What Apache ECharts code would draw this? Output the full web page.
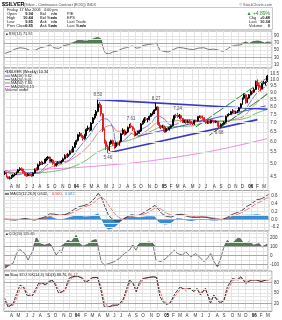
<!DOCTYPE html>
<html><head><meta charset="utf-8">
<script src="https://cdn.jsdelivr.net/npm/echarts@6/dist/echarts.min.js"></script>
<style>html,body{margin:0;padding:0;background:#fff}#c{width:282px;height:320px}</style>
</head><body><div id="c"></div>
<script>
// ---------- DATA ----------
const firstWeek = '2003-03-07';
const opens = [4.60,4.63,4.48,4.42,4.45,4.48,4.55,4.58,4.65,4.75,
4.80,4.78,4.65,4.55,4.52,4.58,4.55,4.52,4.62,4.78,
4.75,4.95,5.05,5.00,5.02,5.15,5.22,5.28,5.10,5.15,
5.00,4.92,5.00,5.05,5.02,5.10,5.20,5.35,5.30,5.40,
5.55,5.50,5.72,5.95,6.05,6.35,6.40,6.28,6.15,6.35,
6.65,6.72,6.60,7.00,7.30,7.45,7.70,8.20,8.10,7.55,
6.60,6.00,5.75,5.60,5.90,6.05,5.88,5.75,5.95,5.85,
6.00,6.40,6.60,6.40,6.50,6.75,6.85,6.78,6.65,6.35,
6.42,6.48,6.55,6.95,7.05,7.25,7.20,7.22,7.40,7.55,
7.62,7.80,8.00,7.00,6.85,6.75,6.82,6.52,6.70,6.62,
6.75,6.85,7.20,7.45,7.42,7.40,7.45,7.28,7.05,7.15,
7.02,7.12,7.10,6.98,6.95,7.15,7.12,7.35,7.40,7.32,
7.28,7.10,7.00,7.10,7.00,7.15,7.12,7.05,7.10,6.85,
6.80,6.92,6.95,7.05,7.40,7.50,7.52,7.70,7.75,7.65,
7.68,7.72,7.95,8.20,8.60,8.85,8.30,8.60,8.85,9.10,
9.05,9.25,9.90,9.62,9.40,9.30,9.72,9.80,9.94];
const closes = [4.63,4.48,4.42,4.45,4.48,4.55,4.58,4.65,4.75,4.80,
4.78,4.65,4.55,4.52,4.58,4.55,4.52,4.62,4.78,4.75,
4.95,5.05,5.00,5.02,5.15,5.22,5.28,5.10,5.15,5.00,
4.92,5.00,5.05,5.02,5.10,5.20,5.35,5.30,5.40,5.55,
5.50,5.72,5.95,6.05,6.35,6.40,6.28,6.15,6.35,6.65,
6.72,6.60,7.00,7.30,7.45,7.70,8.20,8.10,7.55,6.60,
6.00,5.75,5.60,5.90,6.05,5.88,5.75,5.95,5.85,6.00,
6.40,6.60,6.40,6.50,6.75,6.85,6.78,6.65,6.35,6.42,
6.48,6.55,6.95,7.05,7.25,7.20,7.22,7.40,7.55,7.62,
7.80,8.00,7.00,6.85,6.75,6.82,6.52,6.70,6.62,6.75,
6.85,7.20,7.45,7.42,7.40,7.45,7.28,7.05,7.15,7.02,
7.12,7.10,6.98,6.95,7.15,7.12,7.35,7.40,7.32,7.28,
7.10,7.00,7.10,7.00,7.15,7.12,7.05,7.10,6.85,6.80,
6.92,6.95,7.05,7.40,7.50,7.52,7.70,7.75,7.65,7.68,
7.72,7.95,8.20,8.60,8.85,8.30,8.60,8.85,9.10,9.05,
9.25,9.90,9.62,9.40,9.30,9.72,9.80,9.85,10.34];
const highs = [4.70,4.65,4.52,4.50,4.55,4.58,4.62,4.68,4.78,4.85,
4.85,4.80,4.70,4.60,4.62,4.62,4.60,4.65,4.80,4.85,
5.00,5.10,5.12,5.08,5.20,5.28,5.32,5.30,5.20,5.18,
5.05,5.05,5.10,5.12,5.15,5.25,5.40,5.42,5.45,5.58,
5.65,5.78,5.98,6.10,6.40,6.50,6.45,6.35,6.40,6.70,
6.85,6.78,7.05,7.35,7.55,7.80,8.50,8.35,8.15,7.60,
6.70,6.10,5.85,6.00,6.10,6.10,5.95,6.00,6.00,6.05,
6.45,6.70,6.65,6.55,6.80,6.95,7.01,6.82,6.70,6.50,
6.55,6.60,7.00,7.15,7.35,7.35,7.30,7.45,7.60,7.70,
7.85,8.27,8.05,7.05,6.90,6.90,6.85,6.75,6.75,6.80,
6.90,7.25,7.50,7.55,7.61,7.55,7.50,7.30,7.20,7.20,
7.20,7.20,7.15,7.05,7.20,7.20,7.40,7.45,7.45,7.45,
7.35,7.15,7.15,7.15,7.20,7.20,7.18,7.15,7.12,6.92,
6.98,7.00,7.10,7.45,7.55,7.60,7.75,7.85,7.80,7.75,
7.80,8.00,8.25,8.65,8.95,8.90,8.65,8.90,9.20,9.20,
9.35,9.95,10.05,9.80,9.55,9.80,9.95,9.90,10.44];
const lows = [4.55,4.45,4.40,4.38,4.40,4.45,4.50,4.55,4.62,4.70,
4.70,4.62,4.52,4.48,4.50,4.50,4.48,4.50,4.60,4.70,
4.72,4.90,4.95,4.95,5.00,5.10,5.15,5.05,5.05,4.95,
4.88,4.88,4.95,4.98,5.00,5.05,5.18,5.25,5.25,5.35,
5.45,5.48,5.70,5.85,6.00,6.25,6.20,6.05,6.10,6.30,
6.55,6.50,6.55,6.95,7.20,7.40,7.65,7.95,7.40,6.50,
5.90,5.60,5.46,5.55,5.85,5.80,5.65,5.70,5.80,5.80,
5.95,6.35,6.30,6.35,6.45,6.70,6.70,6.55,6.25,6.30,
6.35,6.40,6.50,6.90,7.00,7.10,7.05,7.15,7.35,7.45,
7.55,7.75,6.90,6.70,6.65,6.70,6.45,6.48,6.55,6.58,
6.70,6.80,7.15,7.30,7.30,7.25,7.20,7.00,7.00,6.95,
6.98,7.00,6.90,6.88,6.90,7.05,7.10,7.30,7.25,7.20,
7.05,6.95,6.95,6.95,6.98,7.05,6.98,7.00,6.80,6.68,
6.75,6.85,6.90,7.00,7.35,7.40,7.48,7.60,7.60,7.55,
7.60,7.70,7.90,8.15,8.50,8.20,8.25,8.55,8.80,8.90,
9.00,9.20,9.50,9.20,9.10,9.25,9.65,9.55,9.85];

const ma10Weeks = [0,4,8,12,16,20,24,28,32,36,40,44,48,52,56,60,64,68,72,76,80,84,88,92,96,100,104,108,112,116,120,124,128,132,136,140,144,148,152,156,158];
const ma10Values = [4.68,4.60,4.56,4.62,4.64,4.65,4.84,5.07,5.09,5.09,5.25,5.64,6.03,6.46,7.01,7.25,6.95,5.93,6.08,6.41,6.58,6.73,7.01,7.41,7.23,6.89,6.97,7.20,7.20,7.10,7.18,7.18,7.08,7.00,7.18,7.49,7.76,8.39,9.01,9.40,9.62];
const ma20Values = [4.72,4.66,4.63,4.63,4.61,4.61,4.74,4.86,4.92,5.03,5.17,5.37,5.60,5.96,6.43,6.75,6.85,6.53,6.59,6.43,6.29,6.49,6.75,7.03,7.05,7.05,7.15,7.13,7.07,7.10,7.19,7.17,7.11,7.09,7.16,7.27,7.43,7.87,8.32,8.74,9.01];
const ma50Weeks = [0,8,16,24,32,40,48,56,64,72,80,88,96,104,112,120,128,136,144,152,158];
const ma50Values = [4.65,4.63,4.62,4.65,4.72,4.85,5.10,5.50,5.77,6.00,6.22,6.54,6.79,6.80,6.83,7.03,7.11,7.17,7.26,7.62,7.84];
const ma200Weeks = [0,16,32,48,64,80,96,112,128,144,158];
const ma200Values = [4.72,4.76,4.80,4.86,4.95,5.05,5.20,5.38,5.60,5.88,6.15];

const trendBlueUpper = [[56,8.50],[158,7.85]];
const trendBlueLower = [[62,5.46],[152,7.20]];
const trendBlueMid = [[80,6.27],[157,8.07]];
const trendGreenUpper = [[115,6.78],[158,10.20]];
const trendGreenLower = [[123,6.32],[158,8.90]];

const annotWeeks = [56,62,76,91,104,129];
const annotPrices = [8.50,5.46,7.01,8.27,7.61,6.68];
const annotTexts = ['8.50','5.46','7.61','8.27','7.24','6.68'];
const annotSides = ['top','bottom','top','top','top','bottom'];

const priceTicks = [4.5,5.0,5.5,6.0,6.5,7.0,7.5,8.0,8.5,9.0,9.5,10.0,10.5];

const rsiWeeks = [0,3,6,9,12,15,18,21,24,27,29,32,35,38,41,43,45,47,49,51,53,55,56,57,58,59,60,61,62,64,67,70,72,74,76,78,80,82,85,88,90,91,92,94,97,100,103,106,109,112,115,118,121,124,127,129,131,134,137,140,143,145,147,150,152,154,156,158];
const rsiValues = [41,46,53,57,55,49,50,57,60,65,57,55,63,66,72,77,78,76,76,79,83,86,88,82,62,47,41,39,40,45,48,55,57,60,62,56,57,63,66,68,70,70,50,47,45,52,58,56,53,52,56,57,52,53,50,47,50,60,64,65,73,68,74,76,74,70,73,72];

const macdWeeks = [0,6,12,18,24,27,30,33,36,39,42,45,48,51,54,56,58,60,62,64,66,68,70,72,74,76,78,80,82,85,88,90,92,94,97,100,103,106,109,112,115,118,121,124,127,130,133,136,139,142,145,148,151,154,156,158];
const macdValues = [0.00,-0.02,0.02,-0.02,0.06,0.14,0.13,0.10,0.12,0.18,0.27,0.33,0.36,0.42,0.55,0.67,0.55,0.32,0.12,0.02,-0.04,-0.05,-0.02,0.03,0.08,0.12,0.10,0.10,0.14,0.22,0.30,0.36,0.26,0.15,0.07,0.06,0.12,0.13,0.08,0.05,0.05,0.06,0.05,0.02,0.00,-0.01,0.04,0.12,0.17,0.22,0.33,0.40,0.50,0.53,0.58,0.64];
const signalValues = [0.01,0.00,0.00,0.00,0.02,0.07,0.11,0.11,0.11,0.14,0.20,0.27,0.32,0.37,0.45,0.53,0.57,0.50,0.38,0.25,0.14,0.06,0.01,0.00,0.03,0.07,0.09,0.10,0.11,0.16,0.23,0.29,0.30,0.25,0.16,0.10,0.10,0.12,0.11,0.08,0.06,0.06,0.06,0.04,0.02,0.00,0.01,0.06,0.12,0.17,0.25,0.32,0.41,0.47,0.52,0.56];
const histValues = [-0.01,-0.02,0.02,-0.02,0.05,0.08,0.03,-0.01,0.02,0.06,0.09,0.09,0.07,0.08,0.12,0.15,-0.02,-0.18,-0.26,-0.24,-0.19,-0.12,-0.03,0.05,0.07,0.08,0.06,0.05,0.06,0.08,0.08,0.07,-0.06,-0.12,-0.13,-0.08,0.03,0.02,-0.03,-0.04,-0.02,0.01,-0.01,-0.03,-0.03,-0.01,0.04,0.08,0.10,0.11,0.12,0.12,0.13,0.11,0.10,0.10];

const cciWeeks = [0,3,5,7,9,12,14,17,19,21,24,27,29,31,33,34,36,38,40,43,45,47,50,53,55,56,58,60,63,66,69,72,75,77,79,81,84,87,89,91,94,97,100,102,104,107,109,112,115,117,120,122,124,126,128,130,132,134,136,138,141,144,147,150,153,155,158];
const cciValues = [-144,-107,-89,22,67,22,-52,59,207,133,115,133,78,4,59,30,133,170,152,226,133,104,126,170,178,115,-70,-107,-89,-70,-33,22,59,115,59,133,140,152,140,-52,-70,-33,22,59,22,4,41,-15,22,-15,-70,-33,22,-70,-126,-33,96,170,133,152,207,133,152,115,133,96,126];

const stoWeeks = [0,2,5,7,9,11,13,16,18,20,22,24,26,28,30,32,34,36,38,40,43,46,48,50,52,55,57,59,61,64,67,70,72,74,76,78,80,82,85,88,90,92,94,96,98,101,104,107,110,112,114,116,119,122,124,126,128,130,132,135,138,140,143,146,149,152,155,158];
const stoK = [30,9,20,48,72,67,44,39,58,77,79,72,82,87,72,48,53,63,91,96,98,91,79,87,94,94,58,10,8,15,15,29,58,87,77,53,82,91,94,96,94,39,24,17,21,48,67,58,63,53,63,44,63,20,44,29,21,29,67,91,87,96,77,87,87,82,87,89];
const stoD = [35,15,14,35,60,70,52,40,50,70,78,76,79,85,78,58,52,58,82,94,97,94,83,85,92,94,70,25,10,12,15,24,48,78,80,62,72,88,93,95,95,55,30,20,20,40,60,62,61,57,60,50,58,30,38,33,24,27,55,85,89,93,83,85,87,84,86,88];

// ---------- BUILD ----------
const n = closes.length;
const categories = [];
const base = new Date(firstWeek + 'T00:00:00Z').getTime();
for (let i = 0; i < n; i++) categories.push(new Date(base + i * 7 * 864e5).toISOString().slice(0, 10));
const letters = ['J','F','M','A','M','J','J','A','S','O','N','D'];
const isMonthStart = i => i > 0 && categories[i].slice(5, 7) !== categories[i - 1].slice(5, 7);
const monthLabel = i => { const m = +categories[i].slice(5, 7) - 1; return m === 0 ? '{y|' + categories[i].slice(2, 4) + '}' : letters[m]; };

const FONT = 'Liberation Sans';
const L = Math.log;
const pairs = (ws, vs, f) => ws.map((w, i) => [w, f ? f(vs[i]) : vs[i]]);

const grids = [
  {top: 31, height: 37},
  {top: 68, height: 122.5},
  {top: 190.5, height: 40.5},
  {top: 231, height: 40},
  {top: 271, height: 40.5}
].map(g => ({left: 4, right: 10, top: g.top, height: g.height, show: true, borderColor: '#a0a0a0', borderWidth: 1, backgroundColor: '#fff'}));

const xAxes = grids.map((g, k) => ({
  type: 'category', gridIndex: k, data: categories, boundaryGap: true,
  axisLine: {show: false}, axisTick: {show: false},
  axisLabel: (k === 1 || k === 4) ? {
    show: true, inside: k === 1, margin: k === 1 ? 1.5 : 2, fontSize: 4.5, fontFamily: FONT, color: '#333',
    interval: (i) => isMonthStart(i), formatter: (v, i) => monthLabel(i),
    rich: {y: {fontWeight: 'bold', fontSize: 4.5, fontFamily: FONT, color: '#000'}}
  } : {show: false},
  splitLine: {show: true, interval: (i) => isMonthStart(i), lineStyle: {color: '#e4e4e4', width: 1}}
}));

function yAx(k, min, max, labels, fmt) {
  return {
    type: 'value', gridIndex: k, min: min, max: max, position: 'right', scale: true,
    axisLine: {show: false}, axisTick: {show: false}, splitLine: {show: false},
    axisLabel: {show: true, customValues: labels, formatter: fmt, fontSize: 4.5, fontFamily: FONT, color: '#333', margin: 2}
  };
}
const yAxes = [
  yAx(0, 0, 104, [10, 30, 50, 70, 90], v => String(Math.round(v))),
  yAx(1, L(4.0), L(11.05), priceTicks.map(L), v => Math.exp(v).toFixed(1)),
  yAx(2, -0.3, 0.74, [-0.2, 0, 0.2, 0.4, 0.6], v => v.toFixed(1)),
  yAx(3, -175, 275, [-100, 0, 100, 200], v => String(Math.round(v))),
  yAx(4, -3.3, 112.4, [20, 50, 80], v => String(Math.round(v)))
];

function gridLines(k, light, dark) {
  const d = light.map(v => ({yAxis: v, lineStyle: {color: '#e4e4e4', width: 1, type: 'solid'}}))
    .concat(dark.map(v => ({yAxis: v, lineStyle: {color: '#a8a8a8', width: 1, type: 'solid'}})));
  return {type: 'line', xAxisIndex: k, yAxisIndex: k, data: [], silent: true, z: 0,
    markLine: {silent: true, symbol: ['none', 'none'], label: {show: false}, animation: false, data: d}};
}

const thin = (k, data, color, w, extra) => Object.assign({
  type: 'line', xAxisIndex: k, yAxisIndex: k, data: data, symbol: 'none', silent: true,
  lineStyle: {color: color, width: w}, z: 3
}, extra || {});

const series = [
  // RSI
  gridLines(0, [10, 20, 40, 50, 60, 80, 90], [30, 70]),
  thin(0, pairs(rsiWeeks, rsiValues, v => Math.max(v, 70)), '#4f7f4f', 0,
    {areaStyle: {origin: 70, color: '#4f7f4f', opacity: 1}, z: 2}),
  thin(0, pairs(rsiWeeks, rsiValues), '#555', 0.8),
  // Price
  gridLines(1, priceTicks.map(L), []),
  thin(1, pairs(ma200Weeks, ma200Values, L), '#e87de0', 0.9, {smooth: true}),
  thin(1, pairs(ma50Weeks, ma50Values, L), '#4caf50', 0.8, {smooth: true}),
  thin(1, pairs(ma10Weeks, ma20Values, L), '#e06666', 0.8, {smooth: true}),
  thin(1, pairs(ma10Weeks, ma10Values, L), '#5a5ad0', 0.8, {smooth: true}),
  thin(1, trendBlueMid.map(p => [p[0], L(p[1])]), '#5050d8', 1),
  thin(1, trendBlueUpper.map(p => [p[0], L(p[1])]), '#3838c8', 1.6),
  thin(1, trendBlueLower.map(p => [p[0], L(p[1])]), '#3838c8', 1.6),
  thin(1, trendGreenUpper.map(p => [p[0], L(p[1])]), '#2e8b2e', 1),
  thin(1, trendGreenLower.map(p => [p[0], L(p[1])]), '#2e8b2e', 1),
  {
    type: 'candlestick', xAxisIndex: 1, yAxisIndex: 1, barWidth: 1.4, silent: true, z: 5,
    data: opens.map((o, i) => [L(o), L(closes[i]), L(lows[i]), L(highs[i])]),
    itemStyle: {color: '#ffffff', color0: '#e02020', borderColor: '#000', borderColor0: '#e02020', borderWidth: 1}
  },
  {
    type: 'scatter', xAxisIndex: 1, yAxisIndex: 1, symbolSize: 0, silent: true, z: 6,
    data: annotWeeks.map((w, i) => ({value: [w, L(annotPrices[i])],
      label: {show: true, position: annotSides[i], distance: 2, formatter: annotTexts[i], fontSize: 4.5, fontFamily: FONT, color: '#222'}}))
  },
  // MACD
  gridLines(2, [-0.2, -0.1, 0.1, 0.2, 0.3, 0.4, 0.5, 0.6, 0.7], [0]),
  thin(2, pairs(macdWeeks, histValues), '#3a8ccf', 0, {areaStyle: {origin: 0, color: '#3a8ccf', opacity: 1}, z: 2}),
  thin(2, pairs(macdWeeks, signalValues), '#e06060', 0.8),
  thin(2, pairs(macdWeeks, macdValues), '#222', 0.8),
  // CCI
  gridLines(3, [-150, -50, 50, 150, 200, 250], [-100, 0, 100]),
  thin(3, pairs(cciWeeks, cciValues, v => Math.max(v, 100)), '#4f7f4f', 0, {areaStyle: {origin: 100, color: '#4f7f4f', opacity: 1}, z: 2}),
  thin(3, pairs(cciWeeks, cciValues, v => Math.min(v, -100)), '#c05050', 0, {areaStyle: {origin: -100, color: '#b04a6a', opacity: 1}, z: 2}),
  thin(3, pairs(cciWeeks, cciValues), '#555', 0.8),
  // Stochastics
  gridLines(4, [0, 10, 30, 40, 50, 60, 70, 90, 100], [20, 80]),
  thin(4, pairs(stoWeeks, stoD), '#e06060', 0.8),
  thin(4, pairs(stoWeeks, stoK), '#222', 0.9)
];

// ---------- TEXT ----------
const t = (x, y, text, o) => ({type: 'text', x: x, y: y, silent: true, z: 100,
  style: Object.assign({text: text, fontFamily: FONT, fontSize: 4, fill: '#222', textVerticalAlign: 'middle'}, o || {})});
const graphic = [
  {type: 'rect', shape: {x: 3.5, y: 7.5, width: 269, height: 22}, style: {fill: 'none', stroke: '#c8c8c8', lineWidth: 1}, silent: true},
  t(2, 4.5, '$SILVER', {fontWeight: 'bold', fontSize: 5.5, fill: '#000'}),
  t(24, 4.5, '(Silver - Continuous Contract (EOD)) INDX', {fontSize: 3.8, fill: '#444'}),
  t(272, 5, '© StockCharts.com', {textAlign: 'right', fontSize: 3.8, fill: '#555'}),
  t(7, 9.5, 'Friday, 17 Mar 2006   4:00 pm', {fontSize: 3.8}),
  t(7, 13.5, 'Open'), t(33, 13.5, '9.94', {textAlign: 'right', fontWeight: 'bold'}),
  t(40, 13.5, 'Bid'), t(57, 13.5, 'n/a', {textAlign: 'right', fontWeight: 'bold'}), t(67, 13.5, 'P/E'),
  t(7, 17.8, 'High'), t(33, 17.8, '10.44', {textAlign: 'right', fontWeight: 'bold'}),
  t(40, 17.8, 'Bid Size'), t(57, 17.8, 'n/a', {textAlign: 'right', fontWeight: 'bold'}), t(67, 17.8, 'EPS'),
  t(7, 22, 'Low'), t(33, 22, '9.85', {textAlign: 'right', fontWeight: 'bold'}),
  t(40, 22, 'Ask'), t(57, 22, 'n/a', {textAlign: 'right', fontWeight: 'bold'}), t(67, 22, 'Last Trade'),
  t(7, 26.3, 'Prev Close'), t(33, 26.3, '9.85', {textAlign: 'right', fontWeight: 'bold'}),
  t(40, 26.3, 'Ask Size'), t(57, 26.3, 'n/a', {textAlign: 'right', fontWeight: 'bold'}), t(67, 26.3, 'Last Size'),
  t(86, 26.3, 'n/a', {textAlign: 'right', fontWeight: 'bold'}),
  t(270, 13.5, '▲ +4.89%', {textAlign: 'right', fontSize: 5, fill: '#2e8b2e'}),
  t(249, 18, 'Chg'), t(270, 18, '+0.48', {textAlign: 'right', fontWeight: 'bold'}),
  t(249, 22, 'Last'), t(270, 22, '10.34', {textAlign: 'right', fontWeight: 'bold'}),
  t(249, 26.3, 'Volume'), t(270, 26.3, '0', {textAlign: 'right', fontWeight: 'bold'}),
  // RSI label
  t(5, 33.5, '▲RSI(14) 71.92', {fontSize: 3.8, fill: '#333'}),
  // price legend
  t(5, 72, '▪$SILVER (Weekly) 10.34', {fontSize: 3.8, fill: '#000'}),
  {type: 'line', shape: {x1: 5, y1: 76, x2: 10, y2: 76}, style: {stroke: '#5a5ad0', lineWidth: 1}, silent: true, z: 100},
  t(11, 76, 'MA(10) 9.62', {fontSize: 3.8}),
  {type: 'line', shape: {x1: 5, y1: 79.5, x2: 10, y2: 79.5}, style: {stroke: '#e06666', lineWidth: 1}, silent: true, z: 100},
  t(11, 79.5, 'MA(20) 9.01', {fontSize: 3.8}),
  {type: 'line', shape: {x1: 5, y1: 83, x2: 10, y2: 83}, style: {stroke: '#4caf50', lineWidth: 1}, silent: true, z: 100},
  t(11, 83, 'MA(50) 7.84', {fontSize: 3.8}),
  {type: 'line', shape: {x1: 5, y1: 86.5, x2: 10, y2: 86.5}, style: {stroke: '#e87de0', lineWidth: 1}, silent: true, z: 100},
  t(11, 86.5, 'MA(200) 6.15', {fontSize: 3.8}),
  t(5, 90, 'Volume undef', {fontSize: 3.8}),
  // MACD label
  {type: 'line', shape: {x1: 5, y1: 194, x2: 9, y2: 194}, style: {stroke: '#000', lineWidth: 1}, silent: true, z: 100},
  t(10, 194, 'MACD(12,26,9) 0.642,', {fontSize: 3.8}),
  t(52, 194, '0.560,', {fontSize: 3.8, fill: '#e03030'}),
  t(65, 194, '0.082', {fontSize: 3.8, fill: '#3a8ccf'}),
  // CCI label
  t(5, 234, '▲CCI(20) 125.65', {fontSize: 3.8, fill: '#333'}),
  // Stoch label
  {type: 'line', shape: {x1: 5, y1: 275, x2: 9, y2: 275}, style: {stroke: '#000', lineWidth: 1}, silent: true, z: 100},
  t(10, 275, 'Slow STO %K(14,3) %D(3) 88.76,', {fontSize: 3.8}),
  t(68, 275, '86.12', {fontSize: 3.8, fill: '#e03030'})
];

const chart = echarts.init(document.getElementById('c'), null, {renderer: 'canvas'});
chart.setOption({
  animation: false, backgroundColor: '#fff',
  grid: grids, xAxis: xAxes, yAxis: yAxes, series: series, graphic: graphic
});
</script>
</body></html>
